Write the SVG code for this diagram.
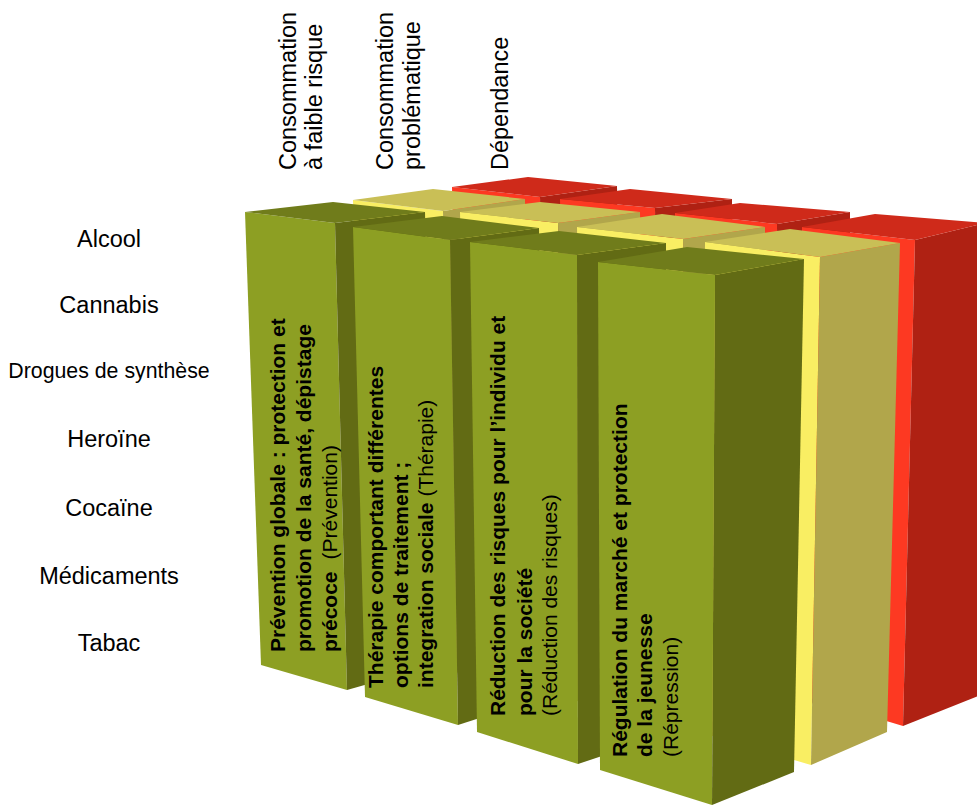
<svg xmlns="http://www.w3.org/2000/svg" width="977" height="806" viewBox="0 0 977 806">
<style>
.lbl{font-family:"Liberation Sans",Arial,Helvetica,sans-serif;font-size:23.5px;fill:#000;text-anchor:middle}
.hdr{font-family:"Liberation Sans",Arial,Helvetica,sans-serif;font-size:23.5px;fill:#000}
.bx{font-family:"Liberation Sans",Arial,Helvetica,sans-serif;font-size:21px;fill:#000;font-weight:bold}
.rg{font-weight:normal}
.gF{fill:#8D9F23}.gT{fill:#707C1B}.gS{fill:#626B14}
.yF{fill:#F9EE63}.yT{fill:#C9BF56}.yS{fill:#B1A64B}
.rF{fill:#FD3922}.rT{fill:#CF2A1A}.rS{fill:#AF2113}
</style>
<rect width="977" height="806" fill="#fff"/>
<g id="headers">
<text class="hdr" transform="translate(296,170) rotate(-90)">Consommation</text>
<text class="hdr" transform="translate(322,170) rotate(-90)">à faible risque</text>
<text class="hdr" transform="translate(393,170) rotate(-90)">Consommation</text>
<text class="hdr" transform="translate(420,170) rotate(-90)">problématique</text>
<text class="hdr" transform="translate(508,170) rotate(-90)">Dépendance</text>
</g>
<g id="row-labels">
<text class="lbl" x="109" y="247">Alcool</text>
<text class="lbl" x="109" y="313">Cannabis</text>
<text class="lbl" x="109" y="378" style="font-size:21.3px">Drogues de synthèse</text>
<text class="lbl" x="109" y="447">Heroïne</text>
<text class="lbl" x="109" y="516">Cocaïne</text>
<text class="lbl" x="109" y="584">Médicaments</text>
<text class="lbl" x="109" y="651">Tabac</text>
</g>
<g id="connectors"></g>
<g id="dependance-row">
<g id="r1"><polygon class="rF" points="452,187 540,197 548,672 462,650"/><polygon class="rS" points="540,197 617,186 622,650 548,672"/><polygon class="rT" points="452,187 540,197 617,186 528,177"/></g>
<g id="r2"><polygon class="rF" points="560,199 655,208 660,700 568,675"/><polygon class="rS" points="655,208 732,199 735,675 660,700"/><polygon class="rT" points="560,199 655,208 732,199 630,189"/></g>
<g id="r3"><polygon class="rF" points="675,213 777,224 780,715 680,690"/><polygon class="rS" points="777,224 850,212 850,690 780,715"/><polygon class="rT" points="675,213 777,224 850,212 740,203"/></g>
<g id="r4"><polygon class="rF" points="802,227 915,240 903,726 800,695"/><polygon class="rS" points="915,240 985,223 978,696 903,726"/><polygon class="rT" points="802,227 915,240 985,223 875,214"/></g>
</g>
<g id="problematique-row">
<g id="y1"><polygon class="yF" points="353,200 443,211 450,675 365,650"/><polygon class="yS" points="443,211 525,199 530,650 450,675"/><polygon class="yT" points="353,200 443,211 525,199 433,189"/></g>
<g id="y2"><polygon class="yF" points="460,212 558,223 565,705 470,680"/><polygon class="yS" points="558,223 640,212 645,680 565,705"/><polygon class="yT" points="460,212 558,223 640,212 540,202"/></g>
<g id="y3"><polygon class="yF" points="577,227 683,239 688,735 585,705"/><polygon class="yS" points="683,239 765,227 768,705 688,735"/><polygon class="yT" points="577,227 683,239 765,227 662,214"/></g>
<g id="y4"><polygon class="yF" points="705,242 820,257 811,765 702,733"/><polygon class="yS" points="820,257 900,243 887,732 811,765"/><polygon class="yT" points="705,242 820,257 900,243 790,229"/></g>
</g>
<g id="faible-risque-row">
<g id="prevention"><polygon class="gF" points="245,212 335,223 347,690 261,665"/><polygon class="gS" points="335,223 425,212 435,665 347,690"/><polygon class="gT" points="245,212 335,223 425,212 333,202"/>
<text class="bx" transform="translate(285,652) rotate(-90)">Prévention globale : protection et</text>
<text class="bx" transform="translate(311,652) rotate(-90)">promotion de la santé, dépistage</text>
<text class="bx" transform="translate(337,652) rotate(-90)">précoce<tspan class="rg" dx="12">(Prévention)</tspan></text>
</g>
<g id="therapie"><polygon class="gF" points="353,227 450,240 458,725 365,697"/><polygon class="gS" points="450,240 539,228 545,697 458,725"/><polygon class="gT" points="353,227 450,240 539,228 442,216"/>
<text class="bx" transform="translate(383,688) rotate(-90)">Thérapie comportant différentes</text>
<text class="bx" transform="translate(408,688) rotate(-90)">options de traitement ;</text>
<text class="bx" transform="translate(433,688) rotate(-90)">integration sociale <tspan class="rg">(Thérapie)</tspan></text>
</g>
<g id="reduction-risques"><polygon class="gF" points="470,242 577,255 578,764 477,732"/><polygon class="gS" points="577,255 666,243 665,735 578,764"/><polygon class="gT" points="470,242 577,255 666,243 559,231"/>
<text class="bx" transform="translate(505,716) rotate(-90)">Réduction des risques pour l’individu et</text>
<text class="bx" transform="translate(532,716) rotate(-90)">pour la société</text>
<text class="bx rg" transform="translate(557,716) rotate(-90)">(Réduction des risques)</text>
</g>
<g id="repression"><polygon class="gF" points="598,262 715,275 712,805 600,770"/><polygon class="gS" points="715,275 804,259 794,772 712,805"/><polygon class="gT" points="598,262 715,275 804,259 687,247"/>
<text class="bx" transform="translate(627,757) rotate(-90)">Régulation du marché et protection</text>
<text class="bx" transform="translate(652,757) rotate(-90)">de la jeunesse</text>
<text class="bx rg" transform="translate(678,757) rotate(-90)">(Répression)</text>
</g>
</g>
</svg>
